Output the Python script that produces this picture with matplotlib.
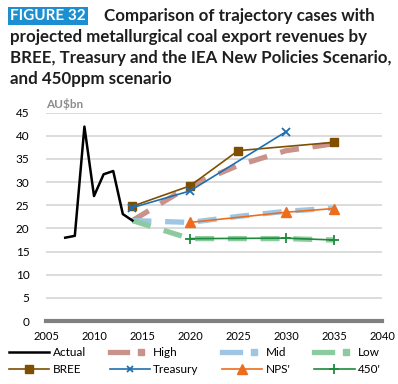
import matplotlib.pyplot as plt
from matplotlib.lines import Line2D
from matplotlib.legend_handler import HandlerTuple

actual_years = [2007, 2008, 2009, 2010, 2011, 2012, 2013, 2014]
actual_vals = [18.0, 18.4, 42.0, 27.0, 31.7, 32.4, 23.1, 21.7]

scen_years = [2014, 2020, 2025, 2030, 2035]
high_vals = [21.7, 29.2, 33.6, 36.8, 38.3]
mid_vals = [21.7, 21.3, 22.6, 23.7, 24.4]
low_vals = [21.7, 17.8, 17.8, 17.8, 17.5]

bree_years = [2014, 2020, 2025, 2035]
bree_vals = [24.8, 29.2, 36.8, 38.6]
treas_years = [2014, 2020, 2030]
treas_vals = [24.5, 28.1, 40.9]
nps_years = [2020, 2030, 2035]
nps_vals = [21.3, 23.5, 24.3]
p450_years = [2020, 2030, 2035]
p450_vals = [17.8, 17.9, 17.5]

plt.rcParams['font.family'] = ['Lato', 'DejaVu Sans']

fig = plt.figure(figsize=(3.98, 3.84), dpi=100)
ax = fig.add_axes([0.1156, 0.164, 0.8444, 0.5425])

c_high = '#c9928b'
c_mid = '#9ec6e4'
c_low = '#8ccb9f'
dash = (3.6, 2.6)
ax.plot(scen_years, high_vals, color=c_high, lw=3.8, dashes=dash, zorder=2)
ax.plot(scen_years, mid_vals, color=c_mid, lw=3.8, dashes=dash, zorder=2)
ax.plot(scen_years, low_vals, color=c_low, lw=3.8, dashes=dash, zorder=2)

ax.plot(actual_years, actual_vals, color='black', lw=1.8, zorder=4)
ax.plot(bree_years, bree_vals, color='#7f4f00', lw=1.2, marker='s', ms=6, zorder=5)
ax.plot(treas_years, treas_vals, color='#1f6fb0', lw=1.2, marker='x', ms=6, mew=1.3, zorder=5)
ax.plot(nps_years, nps_vals, color='#ed6d1d', lw=1.2, marker='^', ms=7, zorder=5)
ax.plot(p450_years, p450_vals, color='#1e8a3c', lw=1.2, marker='+', ms=7, mew=1.3, zorder=5)

ax.set_xlim(2005, 2040)
ax.set_ylim(0, 45)
ax.set_xticks(range(2005, 2041, 5))
ax.set_yticks(range(0, 46, 5))
ax.grid(axis='y', color='#d9d9d9', lw=1.3)
ax.set_axisbelow(True)
for s in ['left', 'right', 'top']:
    ax.spines[s].set_visible(False)
ax.spines['bottom'].set_color('#808080')
ax.spines['bottom'].set_linewidth(3)
ax.tick_params(length=0, labelsize=8.5, colors='black')
ax.tick_params(axis='y', pad=12)
ax.tick_params(axis='x', pad=7)
for t in ax.get_xticklabels():
    t.set_fontsize(8)

fig.text(0.1156, 0.72, 'AU$bn', fontsize=8.5, fontweight='bold', color='#8c8c8c')

# title
fig.text(0.025, 0.958, 'FIGURE 32', fontsize=11, fontweight='bold', color='white', va='center',
         bbox=dict(boxstyle='square,pad=0.12', fc='#1b8fd2', ec='none'))
fig.text(0.262, 0.958, 'Comparison of trajectory cases with', fontsize=12.2, fontweight='bold',
         color='#1e1e1e', va='center')
title_rest = ['projected metallurgical coal export revenues by',
              'BREE, Treasury and the IEA New Policies Scenario,',
              'and 450ppm scenario']
for i, line in enumerate(title_rest):
    fig.text(0.025, 0.903 - i * 0.055, line, fontsize=12.2, fontweight='bold',
             color='#1e1e1e', va='center')

# legend
h_actual = Line2D([], [], color='black', lw=1.8)
h_bree = Line2D([], [], color='#7f4f00', lw=1.2, marker='s', ms=6)
h_treas = Line2D([], [], color='#1f6fb0', lw=1.2, marker='x', ms=5, mew=1.3)
h_nps = Line2D([], [], color='#ed6d1d', lw=1.2, marker='^', ms=7)
h_450 = Line2D([], [], color='#1e8a3c', lw=1.2, marker='+', ms=7, mew=1.3)

def scen_handle(c):
    return (Line2D([], [], color=c, lw=3.8), Line2D([], [], color=c, ls='', marker='s', ms=5))

handles = [h_actual, h_bree, scen_handle(c_high), h_treas, scen_handle(c_mid), h_nps,
           scen_handle(c_low), h_450]
labels = ['Actual', 'BREE', 'High', 'Treasury', 'Mid', "NPS'", 'Low', "450'"]
fig.legend(handles, labels, loc='lower center', bbox_to_anchor=(0.49, -0.005), ncol=4,
           frameon=False, fontsize=8.5, handlelength=3.4, handletextpad=0.3, columnspacing=2.0,
           labelspacing=0.55, handler_map={tuple: HandlerTuple(ndivide=None, pad=0.4)})

fig.savefig('out.png', dpi=100)
